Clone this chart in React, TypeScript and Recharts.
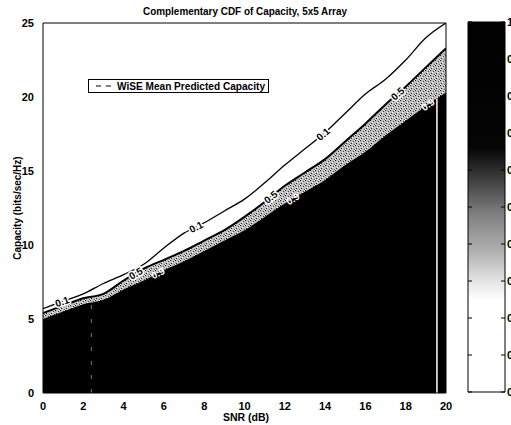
import {
  ComposedChart,
  Area,
  Line,
  Scatter,
  XAxis,
  YAxis,
  ReferenceLine,
  BarChart,
  Bar,
} from 'recharts';

// SNR grid (dB) and capacity contours (bits/sec/Hz) of the complementary CDF
const snrDb = [0, 1, 2, 3, 4, 5, 6, 7, 8, 9, 10, 11, 12, 13, 14, 15, 16, 17, 18, 19, 20];
const cap10 = [5.7, 6.2, 6.7, 7.4, 8.0, 8.7, 9.8, 10.8, 11.5, 12.3, 13.1, 14.2, 15.4, 16.5, 17.6, 18.9, 20.2, 21.2, 22.5, 24.0, 25.0];
const cap50 = [5.4, 5.9, 6.4, 6.7, 7.6, 8.4, 9.0, 9.6, 10.3, 11.0, 11.9, 12.9, 14.0, 14.9, 15.8, 17.0, 18.2, 19.5, 20.7, 22.0, 23.3];
const cap90 = [5.0, 5.5, 6.0, 6.3, 7.0, 7.6, 8.3, 8.9, 9.6, 10.3, 11.0, 11.9, 12.8, 13.6, 14.4, 15.4, 16.3, 17.4, 18.4, 19.4, 20.3];

// where the contour levels are written on the lines
const label10At = [0.95, 7.6, 13.9];
const label50At = [4.6, 11.3, 17.6];
const label90At = [5.7, 12.4, 19.1];

const xTicks = [0, 2, 4, 6, 8, 10, 12, 14, 16, 18, 20];
const yTicks = [0, 5, 10, 15, 20, 25];
const cbTicks = [0, 0.1, 0.2, 0.3, 0.4, 0.5, 0.6, 0.7, 0.8, 0.9, 1];

// scan artefacts: white stripe near 19.5 dB, faint dashed mark near 2.4 dB
const stripeSnr = 19.55;
const dashSnr = 2.4;
const dashTop = 6.3;

const FONT = '"Liberation Sans", Arial, sans-serif';
const PX_X = 403 / 20;
const PX_Y = 370 / 25;

const data = snrDb.map((s, i) => ({ snr: s, p10: cap10[i], p50: cap50[i], p90: cap90[i] }));

const interp = (ys: number[], x: number) => {
  const c = Math.max(0, Math.min(snrDb.length - 2, Math.floor(x)));
  const t = x - snrDb[c];
  return ys[c] + (ys[c + 1] - ys[c]) * t;
};

const series: Record<string, number[]> = { '0.1': cap10, '0.5': cap50, '0.9': cap90 };

const labelPoints = [
  ...label10At.map((s) => ({ snr: s, cap: interp(cap10, s), text: '0.1' })),
  ...label50At.map((s) => ({ snr: s, cap: interp(cap50, s), text: '0.5' })),
  ...label90At.map((s) => ({ snr: s, cap: interp(cap90, s), text: '0.9' })),
];

const ContourLabel = (props: any) => {
  const { cx, cy, payload } = props;
  if (cx == null || cy == null) return null;
  const ys = series[payload.text];
  const lo = Math.max(payload.snr - 0.5, 0);
  const hi = Math.min(payload.snr + 0.5, 20);
  const slope = (interp(ys, hi) - interp(ys, lo)) / (hi - lo);
  const angle = (-Math.atan((slope * PX_Y) / PX_X) * 180) / Math.PI;
  const inner = payload.text === '0.9';
  return (
    <text
      x={cx}
      y={cy}
      transform={`rotate(${angle} ${cx} ${cy})`}
      textAnchor="middle"
      dominantBaseline="central"
      fontFamily={FONT}
      fontSize={10}
      fontWeight="bold"
      fill={inner ? '#fff' : '#000'}
      stroke={inner ? 'none' : '#fff'}
      strokeWidth={3}
      paintOrder="stroke"
    >
      {payload.text}
    </text>
  );
};

const CbTick = (props: any) => {
  const { x, y, payload } = props;
  return (
    <g>
      <line x1={x - 4} y1={y} x2={x} y2={y} stroke="#000" />
      <line x1={x - 37} y1={y} x2={x - 33} y2={y} stroke="#000" />
      <text x={x + 2} y={y} dominantBaseline="central" fontFamily={FONT} fontSize={11} fontWeight="bold" fill="#000">
        {payload.value}
      </text>
    </g>
  );
};

const tickStyle = { fontSize: 11, fontWeight: 'bold', fill: '#000', fontFamily: FONT };

export default function App() {
  return (
    <div style={{ position: 'absolute', left: 0, top: 0, width: 511, height: 425, overflow: 'hidden', background: '#fff' }}>
      <div style={{ position: 'absolute', left: 0, top: 0 }}>
        <ComposedChart width={460} height={425} data={data} margin={{ top: 23, right: 14, bottom: 12, left: 13 }}>
          <defs>
            <pattern id="dither" width="5" height="5" patternUnits="userSpaceOnUse">
              <rect width="5" height="5" fill="#bdbdbd" />
              <rect x="0" y="0" width="1" height="1" fill="#111" />
              <rect x="3" y="1" width="1" height="1" fill="#444" />
              <rect x="1" y="3" width="1" height="1" fill="#222" />
              <rect x="4" y="4" width="1" height="1" fill="#555" />
              <rect x="2" y="2" width="1" height="1" fill="#fff" />
              <rect x="4" y="0" width="1" height="1" fill="#eee" />
              <rect x="0" y="4" width="1" height="1" fill="#fff" />
            </pattern>
          </defs>
          <XAxis
            type="number"
            dataKey="snr"
            domain={[0, 20]}
            ticks={xTicks}
            tick={tickStyle}
            tickLine={false}
            tickMargin={3}
            axisLine={{ stroke: '#000' }}
            height={20}
            allowDataOverflow
          />
          <YAxis
            type="number"
            domain={[0, 25]}
            ticks={yTicks}
            tick={tickStyle}
            tickLine={false}
            tickMargin={3}
            axisLine={{ stroke: '#000' }}
            width={30}
            allowDataOverflow
          />
          <Area type="monotone" dataKey="p50" stroke="none" fill="url(#dither)" fillOpacity={1} isAnimationActive={false} />
          <Area type="monotone" dataKey="p90" stroke="none" fill="#000" fillOpacity={1} isAnimationActive={false} />
          <Line type="monotone" dataKey="p50" stroke="#000" strokeWidth={2} dot={false} isAnimationActive={false} />
          <Line type="monotone" dataKey="p10" stroke="#000" strokeWidth={1.3} dot={false} isAnimationActive={false} />
          <ReferenceLine segment={[{ x: stripeSnr, y: 0 }, { x: stripeSnr, y: interp(cap90, stripeSnr) }]} stroke="#fff" strokeWidth={1.5} />
          <ReferenceLine segment={[{ x: dashSnr, y: 0 }, { x: dashSnr, y: dashTop }]} stroke="#777" strokeDasharray="4 10" />
          <ReferenceLine y={25} stroke="#000" />
          <ReferenceLine x={20} stroke="#000" />
          <Scatter data={labelPoints} dataKey="cap" shape={<ContourLabel />} isAnimationActive={false} />
        </ComposedChart>
      </div>

      <div style={{ position: 'absolute', left: 460, top: 0 }}>
        <BarChart
          width={51}
          height={425}
          data={[{ k: 'cb', v: 1 }]}
          margin={{ top: 22, right: 0, bottom: 33, left: 8 }}
          barCategoryGap={0}
        >
          <defs>
            <linearGradient id="cbar" x1="0" y1="0" x2="0" y2="1">
              <stop offset="0" stopColor="#000" />
              <stop offset="0.34" stopColor="#050505" />
              <stop offset="0.42" stopColor="#3a3a3a" />
              <stop offset="0.52" stopColor="#808080" />
              <stop offset="0.62" stopColor="#b0b0b0" />
              <stop offset="0.7" stopColor="#e4e4e4" />
              <stop offset="0.75" stopColor="#fff" />
              <stop offset="1" stopColor="#fff" />
            </linearGradient>
          </defs>
          <XAxis dataKey="k" hide />
          <YAxis
            orientation="right"
            type="number"
            domain={[0, 1]}
            ticks={cbTicks}
            width={6}
            tickSize={0}
            tickMargin={0}
            axisLine={false}
            tick={<CbTick />}
          />
          <Bar dataKey="v" fill="url(#cbar)" stroke="#000" strokeWidth={1} isAnimationActive={false} />
        </BarChart>
      </div>

      <svg width={511} height={425} style={{ position: 'absolute', left: 0, top: 0, pointerEvents: 'none' }}>
        <text x={245} y={15} textAnchor="middle" fontFamily={FONT} fontSize={10} fontWeight="bold" textLength={204} lengthAdjust="spacingAndGlyphs">
          Complementary CDF of Capacity, 5x5 Array
        </text>
        <text x={246} y={421} textAnchor="middle" fontFamily={FONT} fontSize={10.5} fontWeight="bold">
          SNR (dB)
        </text>
        <text
          x={21}
          y={208}
          transform="rotate(-90 21 208)"
          textAnchor="middle"
          fontFamily={FONT}
          fontSize={10}
          fontWeight="bold"
        >
          Capacity (bits/sec/Hz)
        </text>
        <rect x={88.5} y={79.5} width={180} height={13} fill="#fff" stroke="#000" />
        <line x1={96} y1={86} x2={113} y2={86} stroke="#000" strokeDasharray="5 5" />
        <text x={117} y={90} fontFamily={FONT} fontSize={10} fontWeight="bold" textLength={148} lengthAdjust="spacingAndGlyphs">
          WiSE Mean Predicted Capacity
        </text>
      </svg>
    </div>
  );
}
